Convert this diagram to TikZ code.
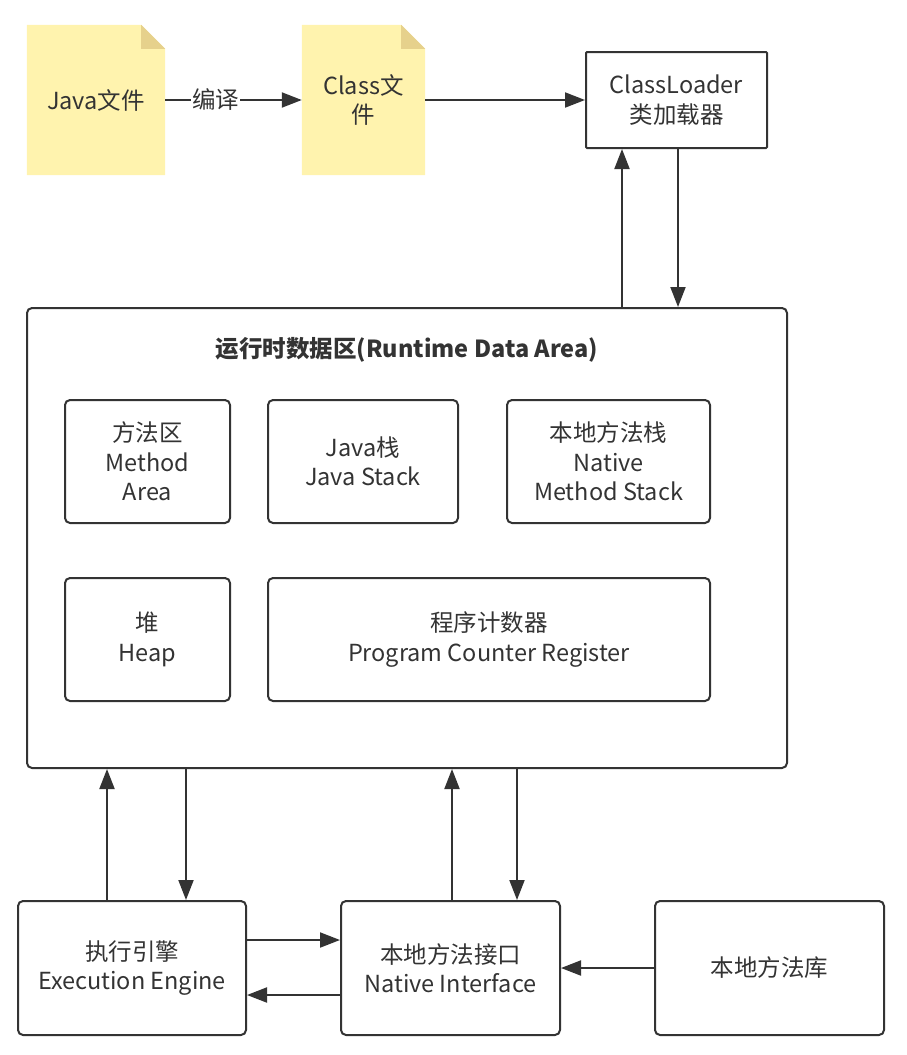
\documentclass[tikz,border=0pt]{standalone}
\usepackage{fontspec}
\setmainfont{Noto Sans CJK SC}
\usetikzlibrary{arrows.meta}
\definecolor{ln}{HTML}{333333}
\definecolor{notefill}{HTML}{FFF3AE}
\definecolor{foldfill}{HTML}{E6D18C}
\pgfdeclarelayer{bg}
\pgfsetlayers{bg,main}
\begin{document}
\begin{tikzpicture}[x=1pt,y=-1pt,
  box/.style={draw=ln, line width=2pt, rounded corners=5pt, align=center, text=ln,
              font=\fontsize{23.5}{29.5}\selectfont, inner sep=0pt},
  notebox/.style={align=center, text=ln, font=\fontsize{23.5}{29.5}\selectfont, inner sep=0pt,
              minimum width=138, minimum height=150},
  arr/.style={draw=ln, line width=2pt, -{Triangle[length=20pt,width=15pt]}}]
\useasboundingbox (0,0) rectangle (907,1055);

% top row
\node[notebox] (java) at (96,100) {Java文件};
\node[notebox, minimum width=123] (cls) at (363.5,100) {Class文\\件};
\node[box, rounded corners=1pt, minimum width=181, minimum height=96] (cl) at (676.5,100) {ClassLoader\\类加载器};

\begin{pgfonlayer}{bg}
\foreach \n in {java,cls}{
  \fill[notefill] (\n.north west) -- ([xshift=-24pt]\n.north east) -- ([yshift=-24pt]\n.north east)
     -- (\n.south east) -- (\n.south west) -- cycle;
  \fill[foldfill] ([xshift=-24pt]\n.north east) -- ([xshift=-24pt,yshift=-24pt]\n.north east)
     -- ([yshift=-24pt]\n.north east) -- cycle;
}
\end{pgfonlayer}

% runtime data area
\node[box, minimum width=760, minimum height=460] (rda) at (407,538) {};
\node[text=ln, font=\fontsize{23.5}{28}\selectfont\bfseries] (title) at (407,350) {运行时数据区(Runtime Data Area)};

\node[box, minimum width=165, minimum height=123] (ma) at (147.5,461.5) {方法区\\Method\\Area};
\node[box, minimum width=190, minimum height=123] (js) at (363,461.5) {Java栈\\Java Stack};
\node[box, minimum width=203, minimum height=123] (nms) at (608.5,461.5) {本地方法栈\\Native\\Method Stack};
\node[box, minimum width=165, minimum height=123] (heap) at (147.5,639.5) {堆\\Heap};
\node[box, minimum width=442, minimum height=123] (pc) at (489,639.5) {程序计数器\\Program Counter Register};

% bottom row
\node[box, minimum width=228, minimum height=134] (ee) at (132,968) {执行引擎\\Execution Engine};
\node[box, minimum width=219, minimum height=134] (ni) at (450.5,968) {本地方法接口\\Native Interface};
\node[box, minimum width=229, minimum height=134] (lib) at (769.5,968) {本地方法库};

% connectors
\draw[arr] (java) -- node[pos=0.37, fill=white, text=ln, inner sep=1pt, font=\fontsize{23.5}{28}\selectfont] (lbl) {编译} (cls);
\draw[arr] (cls) -- (cl);
\draw[arr] (622,0 |- rda.north) -- (622,0 |- cl.south);
\draw[arr] (678,0 |- cl.south) -- (678,0 |- rda.north);
\draw[arr] (107,0 |- ee.north) -- (107,0 |- rda.south);
\draw[arr] (186,0 |- rda.south) -- (186,0 |- ee.north);
\draw[arr] (452,0 |- ni.north) -- (452,0 |- rda.south);
\draw[arr] (517,0 |- rda.south) -- (517,0 |- ni.north);
\draw[arr] (ee.east |- 0,940) -- (ni.west |- 0,940);
\draw[arr] (ni.west |- 0,995) -- (ee.east |- 0,995);
\draw[arr] (lib) -- (ni);
\end{tikzpicture}
\end{document}
